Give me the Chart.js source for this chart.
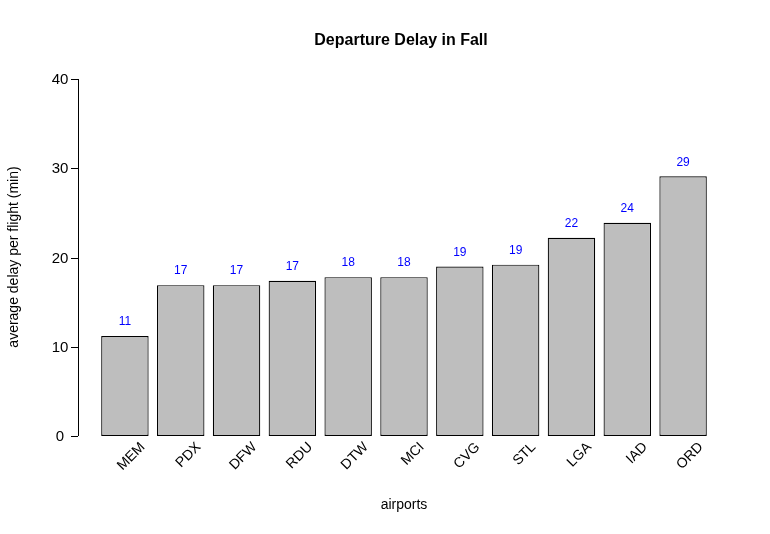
<!DOCTYPE html>
<html>
<head>
<meta charset="utf-8">
<script src="https://cdn.jsdelivr.net/npm/chart.js@4"></script>
<style>
  body { margin: 0; background: #fff; }
  #wrap { width: 770px; height: 534px; }
</style>
</head>
<body>
<div id="wrap"><canvas id="delayChart"></canvas></div>
<script>
const airports = ['MEM', 'PDX', 'DFW', 'RDU', 'DTW', 'MCI', 'CVG', 'STL', 'LGA', 'IAD', 'ORD'];
const delays = [11.2, 16.9, 16.9, 17.4, 17.8, 17.8, 19.0, 19.2, 22.2, 23.9, 29.1];
const delayLabels = ['11', '17', '17', '17', '18', '18', '19', '19', '22', '24', '29'];
const yTicks = [0, 10, 20, 30, 40];

const FONT = '"Liberation Sans", Arial, sans-serif';

// axes, labels and titles drawn by hand to match the base-graphics look
const decorations = {
    id: 'decorations',
    afterDatasetsDraw(chart) {
        const ctx = chart.ctx;
        const y = chart.scales.y;
        const x = chart.scales.x;
        const axisX = 78;
        ctx.save();
        ctx.strokeStyle = '#000';
        ctx.lineWidth = 1;
        ctx.beginPath();
        ctx.moveTo(axisX + 0.5, y.getPixelForValue(yTicks[0]));
        ctx.lineTo(axisX + 0.5, y.getPixelForValue(yTicks[yTicks.length - 1]));
        ctx.stroke();
        ctx.fillStyle = '#000';
        ctx.font = '15px ' + FONT;
        ctx.textAlign = 'center';
        ctx.textBaseline = 'middle';
        yTicks.forEach(t => {
            const py = Math.round(y.getPixelForValue(t)) + 0.5;
            ctx.beginPath();
            ctx.moveTo(axisX, py);
            ctx.lineTo(axisX - 7, py);
            ctx.stroke();
            ctx.fillText(String(t), 60, py);
        });

        // rotated airport names
        ctx.font = '14px ' + FONT;
        ctx.textAlign = 'right';
        ctx.textBaseline = 'top';
        airports.forEach((a, i) => {
            const px = x.getPixelForValue(i);
            ctx.save();
            ctx.translate(px + 13, 440);
            ctx.rotate(-Math.PI / 4);
            ctx.fillText(a, 0, 0);
            ctx.restore();
        });

        // value labels
        ctx.fillStyle = '#0000ff';
        ctx.font = '12px ' + FONT;
        ctx.textAlign = 'center';
        ctx.textBaseline = 'middle';
        delays.forEach((v, i) => {
            ctx.fillText(delayLabels[i], x.getPixelForValue(i), y.getPixelForValue(v) - 14);
        });

        // titles
        ctx.fillStyle = '#000';
        ctx.font = 'bold 16px ' + FONT;
        ctx.fillText('Departure Delay in Fall', 401, 41);
        ctx.font = '14px ' + FONT;
        ctx.fillText('airports', 404, 505);
        ctx.save();
        ctx.translate(14, 257);
        ctx.rotate(-Math.PI / 2);
        ctx.fillText('average delay per flight (min)', 0, 0);
        ctx.restore();
        ctx.restore();
    }
};

new Chart(document.getElementById('delayChart'), {
    type: 'bar',
    data: {
        labels: airports,
        datasets: [{
            data: delays,
            backgroundColor: '#bebebe',
            borderColor: '#000',
            borderWidth: 1.2,
            borderSkipped: false,
            barPercentage: 0.85,
            categoryPercentage: 1
        }]
    },
    options: {
        responsive: true,
        maintainAspectRatio: false,
        animation: false,
        layout: { padding: { left: 97, right: 59, top: 79, bottom: 98 } },
        plugins: { legend: { display: false }, tooltip: { enabled: false } },
        scales: {
            x: { display: false },
            y: { display: false, min: 0, max: 40 }
        }
    },
    plugins: [decorations]
});
</script>
</body>
</html>
